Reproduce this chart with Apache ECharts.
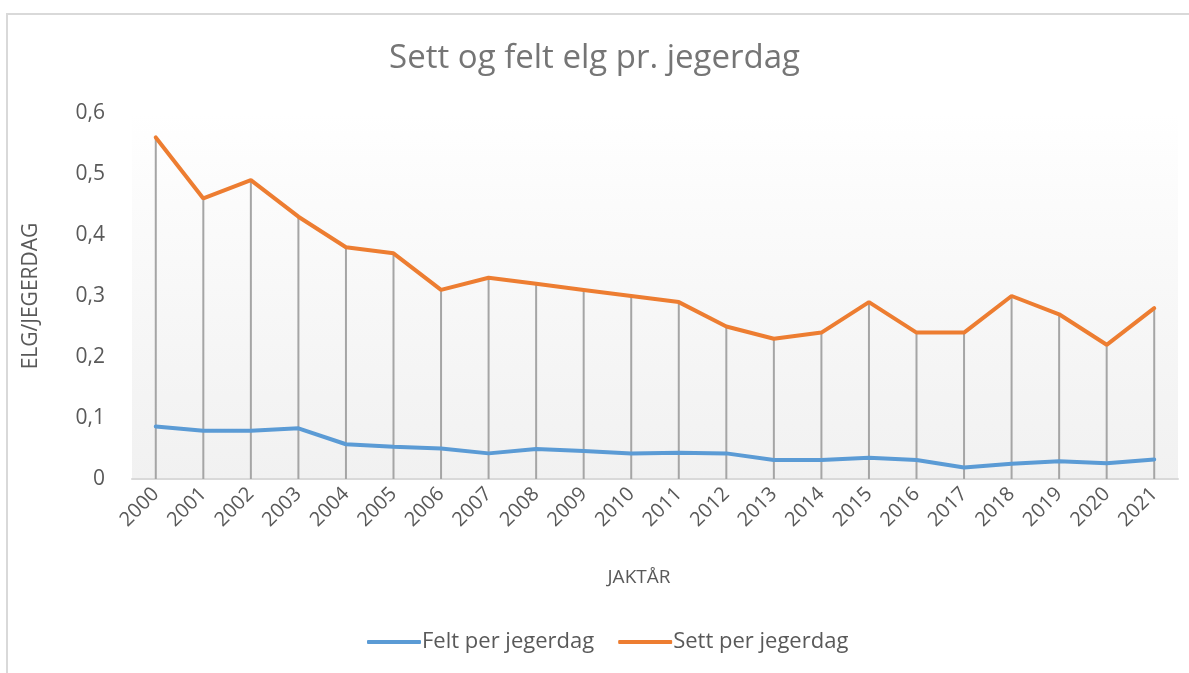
<!DOCTYPE html>
<html>
<head>
<meta charset="utf-8">
<script src="https://cdn.jsdelivr.net/npm/echarts@6/dist/echarts.min.js"></script>
<style>
  html, body { margin: 0; padding: 0; background: #fff; }
  #chart { width: 1189px; height: 673px; }
</style>
</head>
<body>
<div id="chart"></div>
<script>
const years = ['2000', '2001', '2002', '2003', '2004', '2005', '2006', '2007', '2008', '2009', '2010',
  '2011', '2012', '2013', '2014', '2015', '2016', '2017', '2018', '2019', '2020', '2021'];
const felt = [0.086, 0.079, 0.079, 0.083, 0.057, 0.053, 0.050, 0.042, 0.049, 0.046, 0.042,
  0.043, 0.042, 0.031, 0.031, 0.035, 0.031, 0.019, 0.025, 0.029, 0.026, 0.032];
const sett = [0.56, 0.46, 0.49, 0.43, 0.38, 0.37, 0.31, 0.33, 0.32, 0.31, 0.30,
  0.29, 0.25, 0.23, 0.24, 0.29, 0.24, 0.24, 0.30, 0.27, 0.22, 0.28];
const yTicks = [0, 0.1, 0.2, 0.3, 0.4, 0.5, 0.6];

const font = '"Open Sans", "Noto Sans", sans-serif';
const myChart = echarts.init(document.getElementById('chart'));

myChart.setOption({
  animation: false,
  color: ['#5b9bd5', '#ed7d31'],
  title: {
    text: 'Sett og felt elg pr. jegerdag',
    left: 'center',
    top: 37,
    textStyle: { color: '#757575', fontFamily: font, fontSize: 33, fontWeight: 'normal' }
  },
  graphic: [{
    type: 'rect',
    shape: { x: 7, y: 14, width: 1400, height: 900 },
    style: { fill: 'none', stroke: '#d9d9d9', lineWidth: 2 },
    silent: true
  }],
  legend: {
    bottom: 15,
    left: 362,
    itemWidth: 54,
    itemHeight: 4,
    itemGap: 24,
    icon: 'roundRect',
    data: ['Felt per jegerdag', 'Sett per jegerdag'],
    textStyle: { color: '#595959', fontFamily: font, fontSize: 22, padding: [0, 0, 0, -4] }
  },
  grid: {
    left: 132,
    right: 11,
    top: 113,
    bottom: 194,
    show: true,
    borderWidth: 0,
    backgroundColor: new echarts.graphic.LinearGradient(0, 0, 0, 1, [
      { offset: 0, color: '#ffffff' },
      { offset: 0.25, color: '#fbfbfb' },
      { offset: 1, color: '#f1f1f1' }
    ])
  },
  xAxis: {
    type: 'category',
    data: years,
    boundaryGap: true,
    name: 'JAKTÅR',
    nameLocation: 'middle',
    nameGap: 89,
    nameTextStyle: { color: '#595959', fontFamily: font, fontSize: 19, padding: [0, 32, 0, 0] },
    axisLine: { lineStyle: { color: '#d9d9d9', width: 2 } },
    axisTick: { show: false },
    axisLabel: {
      rotate: 45,
      margin: 12,
      color: '#595959',
      fontFamily: font,
      fontSize: 20
    }
  },
  yAxis: {
    type: 'value',
    min: 0,
    max: 0.6,
    interval: 0.1,
    name: 'ELG/JEGERDAG',
    nameLocation: 'middle',
    nameGap: 90,
    nameRotate: 90,
    nameTextStyle: { color: '#595959', fontFamily: font, fontSize: 21 },
    axisLine: { show: false },
    axisTick: { show: false },
    splitLine: { show: false },
    axisLabel: {
      margin: 27,
      color: '#595959',
      fontFamily: font,
      fontSize: 21,
      formatter(val) {
        const t = yTicks.find(v => Math.abs(v - val) < 1e-9);
        return t === 0 ? '0' : t.toFixed(1).replace('.', ',');
      }
    }
  },
  series: [
    {
      name: 'drop',
      type: 'bar',
      data: sett,
      barWidth: 2,
      silent: true,
      itemStyle: { color: '#a5a5a5' },
      z: 1
    },
    {
      name: 'Felt per jegerdag',
      type: 'line',
      data: felt,
      symbol: 'none',
      lineStyle: { width: 4, color: '#5b9bd5', cap: 'round' },
      z: 3
    },
    {
      name: 'Sett per jegerdag',
      type: 'line',
      data: sett,
      symbol: 'none',
      lineStyle: { width: 4, color: '#ed7d31', cap: 'round' },
      z: 3
    }
  ]
});
</script>
</body>
</html>
